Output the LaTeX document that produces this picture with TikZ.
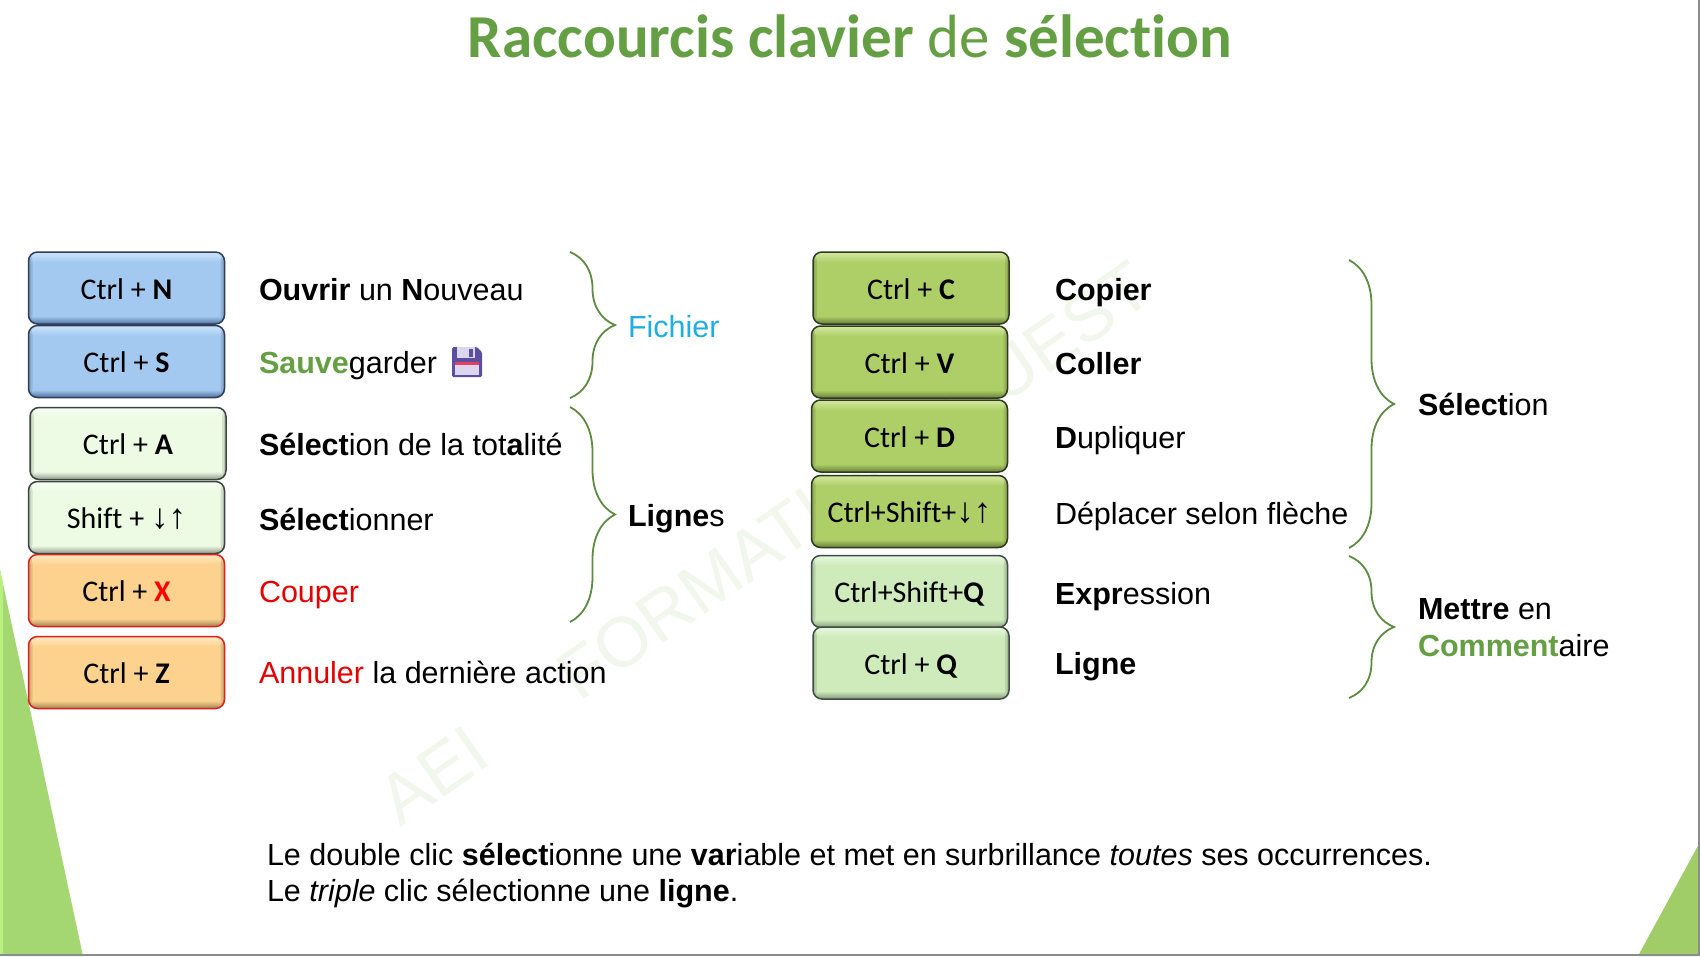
\documentclass[tikz,border=0pt]{standalone}
\usepackage{fontspec}
\setmainfont{Liberation Sans}
\newfontfamily\keyfont[Ligatures=NoCommon]{Carlito}
\newfontfamily\flechefont{Liberation Sans}
\usetikzlibrary{decorations.pathreplacing}

\definecolor{titlegreen}{HTML}{659F43}
\definecolor{bracegreen}{HTML}{5E8B42}
\definecolor{fichierblue}{HTML}{1FAEE3}
\definecolor{triangreen}{HTML}{A4D672}
\definecolor{trianlime}{HTML}{B8F080}
\definecolor{filigrane}{HTML}{F1F7EC}
\definecolor{floppybody}{HTML}{5B4FA0}
\definecolor{floppypale}{HTML}{DCD7EE}
\definecolor{floppyred}{HTML}{E6405A}

% vertical bevel: name, bottom edge, face, top edge
\newcommand{\keyshade}[4]{%
	\pgfdeclareverticalshading{#1}{100bp}{color(0bp)=(#2); color(25bp)=(#2);
		color(30.5bp)=(#3); color(68bp)=(#3); color(75bp)=(#4); color(100bp)=(#4)}}
\definecolor{bluebot}{HTML}{4F6F9C} \definecolor{blueface}{HTML}{A3C9F1} \definecolor{bluetop}{HTML}{CFE5FA}
\definecolor{palebot}{HTML}{8F9A8B} \definecolor{paleface}{HTML}{EDFBE4} \definecolor{paletop}{HTML}{F8FEF4}
\definecolor{orangebot}{HTML}{A28150} \definecolor{orangeface}{HTML}{FDD28F} \definecolor{orangetop}{HTML}{FFEAC4}
\definecolor{olivebot}{HTML}{667C38} \definecolor{oliveface}{HTML}{AECF68} \definecolor{olivetop}{HTML}{D4E8A2}
\definecolor{mintbot}{HTML}{84997A} \definecolor{mintface}{HTML}{CFEBBC} \definecolor{minttop}{HTML}{E8F7DE}
\definecolor{blueedge}{HTML}{2E3E5C}
\definecolor{paleedge}{HTML}{3C4640}
\definecolor{oliveedge}{HTML}{2F3A1E}
\definecolor{mintedge}{HTML}{3E4E44}
\definecolor{orangeedge}{HTML}{E0201C}
\keyshade{keybluesh}{bluebot}{blueface}{bluetop}
\keyshade{keypalesh}{palebot}{paleface}{paletop}
\keyshade{keyorangesh}{orangebot}{orangeface}{orangetop}
\keyshade{keyolivesh}{olivebot}{oliveface}{olivetop}
\keyshade{keymintsh}{mintbot}{mintface}{minttop}

\newcommand{\fleches}{{\flechefont\fontsize{35}{35}\selectfont ↓↑}}

\tikzset{
	keybox/.style={rectangle,rounded corners=9pt,minimum width=196pt,minimum height=72pt,
		line width=1.5pt,outer sep=0pt,inner sep=0pt,text height=22pt,text depth=0pt,
		font=\keyfont\fontsize{30}{32}\selectfont,
		path picture={
			\fill[black,opacity=.1] (path picture bounding box.south west) rectangle ([xshift=4pt]path picture bounding box.north west);
			\fill[black,opacity=.1] (path picture bounding box.south west) rectangle ([xshift=2pt]path picture bounding box.north west);
			\fill[black,opacity=.1] (path picture bounding box.south east) rectangle ([xshift=-4pt]path picture bounding box.north east);
			\fill[black,opacity=.1] (path picture bounding box.south east) rectangle ([xshift=-2pt]path picture bounding box.north east);
		}},
	keyblue/.style={keybox,shade,shading=keybluesh,draw=blueedge},
	keypale/.style={keybox,shade,shading=keypalesh,draw=paleedge},
	keyorange/.style={keybox,shade,shading=keyorangesh,draw=orangeedge},
	keyolive/.style={keybox,shade,shading=keyolivesh,draw=oliveedge},
	keymint/.style={keybox,shade,shading=keymintsh,draw=mintedge},
	txt/.style={anchor=base west,inner sep=0pt,outer sep=0pt,font=\fontsize{30.5}{37}\selectfont},
	accol/.style={decorate,decoration={brace,amplitude=45pt},draw=bracegreen,line width=1.8pt}
}

\begin{document}
\begin{tikzpicture}[x=1pt,y=-1pt]
\useasboundingbox (0,0) rectangle (1700,956);
\fill[white] (0,0) rectangle (1700,956);

% background
\node[rotate=35,text=filigrane,inner sep=0pt,font=\fontsize{70}{70}\selectfont] (filig) at (765,543)
	{AEI\hspace{1.5em}FORMATION\hspace{.7em}OUEST};
\fill[triangreen] (0,570) -- (83,956) -- (0,956) -- cycle;
\fill[trianlime] (0,570) -- (3,584) -- (3,956) -- (0,956) -- cycle;
\fill[triangreen!90!olive] (1700,842) -- (1700,956) -- (1638,956) -- cycle;
\fill[black!45] (0,953.5) rectangle (1700,956);
\fill[black!45] (1698,0) rectangle (1700,956);

\node[anchor=base,inner sep=0pt,text=titlegreen,font=\keyfont\fontsize{61}{64}\selectfont] (titre) at (850,57)
	{\textbf{Raccourcis clavier} de \textbf{sélection}};

% left keys
\node[keyblue] (ctrln) at (126.5,288) {Ctrl + \textbf{N}};
\node[keyblue] (ctrls) at (126.5,361.5) {Ctrl + \textbf{S}};
\node[keypale] (ctrla) at (128,443.5) {Ctrl + \textbf{A}};
\node[keypale] (shift) at (126.5,517.5) {Shift + \fleches};
\node[keyorange] (ctrlx) at (126.5,590.5) {Ctrl + \textbf{\color{red}X}};
\node[keyorange] (ctrlz) at (126.5,672.5) {Ctrl + \textbf{Z}};

% left texts
\node[txt] (ouvrir) at (259,300) {\textbf{Ouvrir} un \textbf{N}ouveau};
\node[txt] (sauve) at (259,373) {\textbf{\color{titlegreen}Sauve}garder};
\node[txt] (totale) at (259,455.5) {\textbf{Sélect}ion de la tot\textbf{a}lité};
\node[txt] (selec) at (259,530) {\textbf{Sélect}ionner};
\node[txt,text=red!90!black] (couper) at (259,602) {Couper};
\node[txt] (annul) at (259,683) {\textcolor{red!90!black}{Annuler} la dernière action};

% floppy
\fill[rounded corners=1.5pt,fill=floppybody] (452,347) -- (477,347) -- (482,352) -- (482,377) -- (452,377) -- cycle;
\fill[fill=floppypale] (457,347) rectangle (475,358);
\fill[fill=floppybody] (469,349) rectangle (473,357);
\fill[fill=floppyred] (455,362) rectangle (479,365);
\fill[fill=floppypale] (455,365) rectangle (479,375);

% right keys
\node[keyolive] (ctrlc) at (911,288) {Ctrl + \textbf{C}};
\node[keyolive] (ctrlv) at (909.5,362) {Ctrl + \textbf{V}};
\node[keyolive] (ctrld) at (909.5,436) {Ctrl + \textbf{D}};
\node[keyolive] (depl) at (909.5,511.5) {Ctrl+Shift+\fleches};
\node[keymint] (ctrlsq) at (909.5,591.5) {Ctrl+Shift+\textbf{Q}};
\node[keymint] (ctrlq) at (911,663) {Ctrl + \textbf{Q}};

% right texts
\node[txt] (copier) at (1055,300) {\textbf{Copier}};
\node[txt] (coller) at (1055,374) {\textbf{Coller}};
\node[txt] (dupli) at (1055,448) {\textbf{D}upliquer};
\node[txt] (fleche) at (1055,524) {Déplacer selon flèche};
\node[txt] (expr) at (1055,604) {\textbf{Expr}ession};
\node[txt] (ligne) at (1055,674) {\textbf{Ligne}};

% braces
\coordinate (fichhaut) at (570,252);
\coordinate (fichbas) at (570,398);
\draw[accol] (fichhaut) -- (fichbas);
\coordinate (ligneshaut) at (570,407);
\coordinate (lignesbas) at (570,622);
\draw[accol] (ligneshaut) -- (lignesbas);
\coordinate (selechaut) at (1349,260);
\coordinate (selecbas) at (1349,548);
\draw[accol] (selechaut) -- (selecbas);
\coordinate (commhaut) at (1349,556);
\coordinate (commbas) at (1349,698);
\draw[accol] (commhaut) -- (commbas);

\node[txt,text=fichierblue] (fichier) at (628,337) {Fichier};
\node[txt] (lignes) at (628,526) {\textbf{Ligne}s};
\node[txt] (select) at (1418,415) {\textbf{Sélect}ion};
\node[txt] (mettre) at (1418,619) {\textbf{Mettre} en};
\node[txt] (comment) at (1418,656) {\textbf{\color{titlegreen}Comment}aire};

% bottom note
\node[txt] (note1) at (267,865)
	{Le double clic \textbf{sélect}ionne une \textbf{var}iable et met en surbrillance \textit{toutes} ses occurrences.};
\node[txt] (note2) at (267,901)
	{Le \textit{triple} clic sélectionne une \textbf{ligne}.};
\end{tikzpicture}
\end{document}
